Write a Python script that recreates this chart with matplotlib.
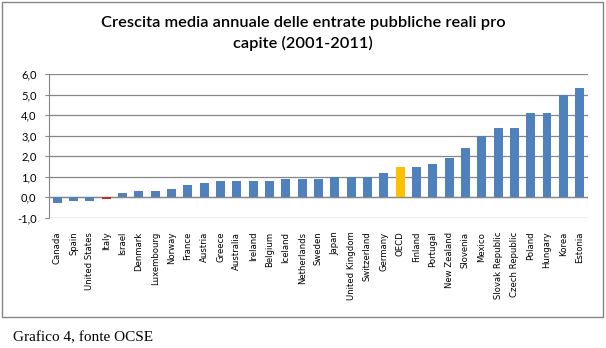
import matplotlib.pyplot as plt
from matplotlib.patches import Rectangle

# data
countries = ["Canada", "Spain", "United States", "Italy", "Israel", "Denmark",
             "Luxembourg", "Norway", "France", "Austria", "Greece", "Australia",
             "Ireland", "Belgium", "Iceland", "Netherlands", "Sweden", "Japan",
             "United Kingdom", "Switzerland", "Germany", "OECD", "Finland",
             "Portugal", "New Zealand", "Slovenia", "Mexico", "Slovak Republic",
             "Czech Republic", "Poland", "Hungary", "Korea", "Estonia"]
values = [-0.3, -0.2, -0.2, -0.1, 0.2, 0.3, 0.3, 0.4, 0.6, 0.7, 0.8, 0.8,
          0.8, 0.8, 0.9, 0.9, 0.9, 1.0, 1.0, 1.0, 1.2, 1.5, 1.5, 1.6, 1.9,
          2.4, 3.0, 3.4, 3.4, 4.1, 4.1, 5.0, 5.3]
y_ticks = [-1, 0, 1, 2, 3, 4, 5, 6]
y_tick_labels = ["-1,0", "0,0", "1,0", "2,0", "3,0", "4,0", "5,0", "6,0"]

title = "Crescita media annuale delle entrate pubbliche reali pro\ncapite (2001-2011)"
caption = "Grafico 4, fonte OCSE"

blue = "#4F81BD"
colors = []
for c in countries:
    if c == "Italy":
        colors.append("#C0302B")
    elif c == "OECD":
        colors.append("#FFC000")
    else:
        colors.append(blue)

fig = plt.figure(figsize=(6.06, 3.48), dpi=100)
ax = fig.add_axes([0.081, 0.374, 0.889, 0.413])

x = list(range(len(countries)))
ax.bar(x, values, width=0.55, color=colors, zorder=3)

ax.set_ylim(-1, 6)
ax.set_xlim(-0.5, len(countries) - 0.5)
ax.set_yticks(y_ticks)
ax.set_yticklabels(y_tick_labels, fontsize=8, family="Lato")
ax.set_xticks(x)
ax.set_xticklabels(countries, rotation=90, fontsize=6.1, family="DejaVu Sans", va="top")
ax.tick_params(axis="x", length=0, pad=10)
ax.tick_params(axis="y", length=3, color="#868686", pad=6)

ax.grid(axis="y", color="#868686", linewidth=0.9, zorder=0)
ax.axhline(0, color="#868686", linewidth=0.9, zorder=2)
for s in ["top", "right", "bottom"]:
    ax.spines[s].set_visible(False)
ax.spines["left"].set_color("#868686")

fig.text(0.5, 0.955, title, ha="center", va="top", fontsize=11.8,
         family="Lato", fontweight="semibold", linespacing=1.55)

# outer box around chart
fig.patches.append(Rectangle((2 / 606, 1 - 317 / 348), 601 / 606, 315 / 348,
                             transform=fig.transFigure, fill=False,
                             edgecolor="#868686", linewidth=1))

fig.text(13 / 606, 1 - 338 / 348, caption, ha="left", va="center",
         fontsize=11, family="Liberation Serif")

fig.savefig("out.png", dpi=100)
